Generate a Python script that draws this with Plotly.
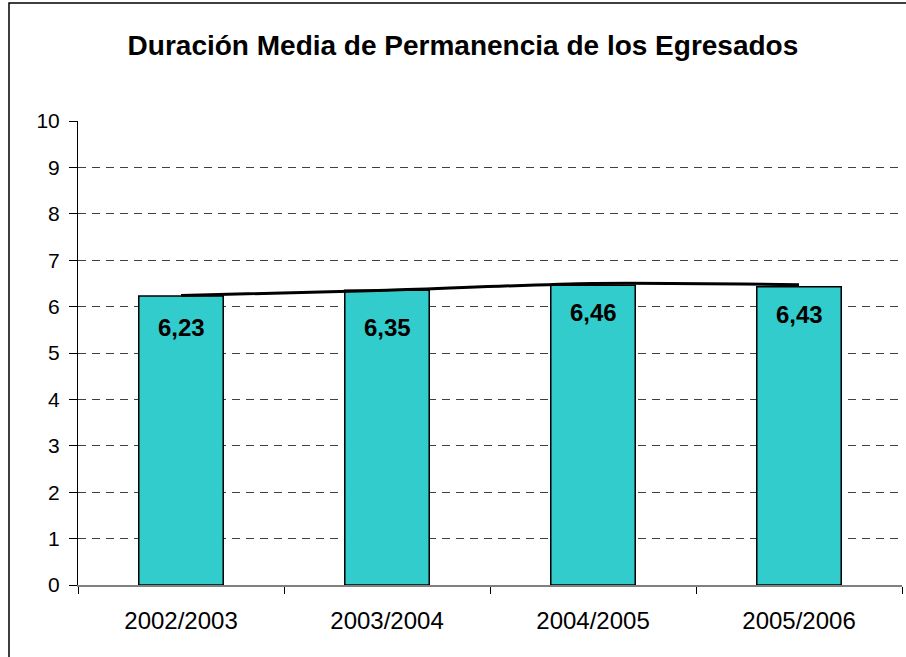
import plotly.graph_objects as go

categories = ["2002/2003", "2003/2004", "2004/2005", "2005/2006"]
values = [6.23, 6.35, 6.46, 6.43]
value_labels = ["6,23", "6,35", "6,46", "6,43"]
trend_values = [6.24, 6.35, 6.50, 6.47]
title_text = "Duración Media de Permanencia de los Egresados"

FONT = "Liberation Sans, Arial, sans-serif"

fig = go.Figure()
fig.add_trace(go.Bar(
    x=categories, y=values, width=0.41,
    marker=dict(color="#33CCCC", line=dict(color="#000000", width=1.5)),
    hoverinfo="skip",
))
fig.add_trace(go.Scatter(
    x=categories, y=trend_values, mode="lines",
    line=dict(color="#000000", width=3, shape="spline", smoothing=0.8),
    hoverinfo="skip",
))

label_shift = [-32, -37, -27, -28]
for c, v, t, s in zip(categories, values, value_labels, label_shift):
    fig.add_annotation(x=c, y=v, text="<b>%s</b>" % t, showarrow=False,
                       yshift=s, font=dict(family=FONT, size=24, color="#000000"))

L, R, T, B = 78, 4, 121, 72
W, H = 906, 657
pw = W - L - R
ph = H - T - B


def px_x(px):
    return (px - L) / pw


def px_y(py):
    return (T + ph - py) / ph


fig.add_shape(type="path", xref="paper", yref="paper",
              path="M %f %f L %f %f L %f %f" % (px_x(9), px_y(H + 5),
                                               px_x(9), px_y(3),
                                               px_x(W + 5), px_y(3)),
              line=dict(color="#000000", width=1.5))

fig.update_layout(
    width=W, height=H,
    margin=dict(l=L, r=R, t=T, b=B),
    paper_bgcolor="#FFFFFF", plot_bgcolor="#FFFFFF",
    showlegend=False,
    title=dict(text="<b>%s</b>" % title_text, x=0.511, xanchor="center",
               y=1 - 45 / H, yanchor="middle", yref="container",
               font=dict(family=FONT, size=28, color="#000000")),
    font=dict(family=FONT, size=22, color="#000000"),
)
fig.update_xaxes(
    type="category", range=[-0.5, 3.5],
    showline=True, linecolor="#808080", linewidth=1.5,
    ticks="outside", tickson="boundaries", ticklen=7, tickcolor="#000000", tickwidth=1,
    showgrid=False, tickfont=dict(family=FONT, size=24, color="#000000"),
    ticklabelstandoff=13,
)
fig.update_yaxes(
    range=[0, 10], dtick=1, tickmode="linear",
    showline=True, linecolor="#000000", linewidth=1,
    ticks="outside", ticklen=8, tickcolor="#000000", tickwidth=1,
    showgrid=True, gridcolor="#404040", gridwidth=1, griddash="8px,6px",
    zeroline=False, tickfont=dict(family=FONT, size=21, color="#000000"),
    ticklabelstandoff=5,
)

fig.write_html("out.html", config={"displayModeBar": False},
               post_script="document.body.style.margin='0';document.body.style.padding='0';")
